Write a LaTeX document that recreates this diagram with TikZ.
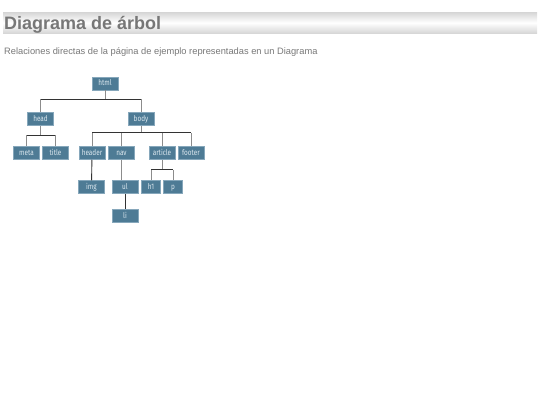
\documentclass[tikz,border=0pt]{standalone}
\usepackage{fontspec}
\setmainfont{Liberation Sans}
\newfontfamily\tagfont[FakeStretch=0.8]{Fira Sans}
\usetikzlibrary{positioning}
\definecolor{tagfill}{HTML}{4E7B95}
\definecolor{tagedge}{HTML}{86A7BB}
\definecolor{tagtext}{HTML}{DCE8EF}
\definecolor{inkgray}{HTML}{777777}
\tikzstyle{tag} = [rectangle, fill=tagfill, draw=tagedge, line width=0.5pt, minimum width=26pt, minimum height=13pt, inner sep=1pt, text height=6pt, text depth=1.5pt, text=tagtext, font=\tagfont\fontsize{8}{9}\selectfont]
\tikzstyle{tagS} = [tag, minimum width=19pt]
\tikzstyle{tie} = [draw=black!45, line width=0.8pt]
\tikzstyle{bar} = [draw=black!80, line width=1pt]

\begin{document}
\begin{tikzpicture}[x=1pt, y=1pt, node distance=34pt]
\useasboundingbox (0,0) rectangle (540,-405);
% heading
\node (banner) [rectangle, minimum width=534pt, minimum height=21pt, top color=black!16, bottom color=black!16, middle color=white] at (270,-22.7) {};
\node (heading) [anchor=base west, inner sep=0pt, text=inkgray, font=\bfseries\fontsize{18}{20}\selectfont] at (4,-29) {Diagrama de árbol};
\node (caption) [anchor=base west, inner sep=0pt, text=inkgray, font=\fontsize{9.3}{11}\selectfont] at (4,-54.5) {Relaciones directas de la página de ejemplo representadas en un Diagrama};
% tree
\node (html) [tag] at (105,-83.5) {html};
\node (head) [tag, below of=html, xshift=-64.5pt, yshift=-1.5pt] {head};
\node (body) [tag, below of=html, xshift=36pt, yshift=-1.5pt] {body};
\node (meta) [tag, below of=head, xshift=-14pt] {meta};
\node (title) [tag, below of=head, xshift=15pt] {title};
\node (header) [tag, below of=body, xshift=-49pt] {header};
\node (nav) [tag, below of=body, xshift=-19.5pt] {nav};
\node (article) [tag, below of=body, xshift=21pt] {article};
\node (footer) [tag, below of=body, xshift=50pt] {footer};
\node (img) [tag, below of=header, xshift=-0.5pt] {img};
\node (ul) [tag, below of=nav, xshift=3.5pt] {ul};
\node (h1) [tagS, below of=article, xshift=-11pt] {h1};
\node (p) [tagS, below of=article, xshift=11pt] {p};
\node (li) [tag, below of=ul, yshift=5pt] {li};
% links
\draw [tie] (html.south) -- ++(0,-9) coordinate (htmlbar);
\draw [bar] (htmlbar -| head) -- (htmlbar -| body);
\foreach \c in {head, body}
  \draw [tie] (htmlbar -| \c) -- (\c.north);
\draw [tie] (head.south) -- ++(0,-9.5) coordinate (headbar);
\draw [bar] (headbar -| meta) -- (headbar -| title);
\foreach \c in {meta, title}
  \draw [tie] (headbar -| \c) -- (\c.north);
\draw [tie] (body.south) -- ++(0,-7) coordinate (bodybar);
\draw [bar] (bodybar -| header) -- (bodybar -| footer);
\foreach \c in {header, nav, article, footer}
  \draw [tie] (bodybar -| \c) -- (\c.north);
\draw [tie] (article.south) -- ++(0,-10) coordinate (articlebar);
\draw [bar] (articlebar -| h1) -- (articlebar -| p);
\foreach \c in {h1, p}
  \draw [tie] (articlebar -| \c) -- (\c.north);
\draw [bar, line width=0.9pt] (header) -- (img);
\draw [bar, line width=0.9pt] (ul) -- (li);
\draw [tie] (nav.south) -- (nav.south |- ul.north);
\end{tikzpicture}
\end{document}
